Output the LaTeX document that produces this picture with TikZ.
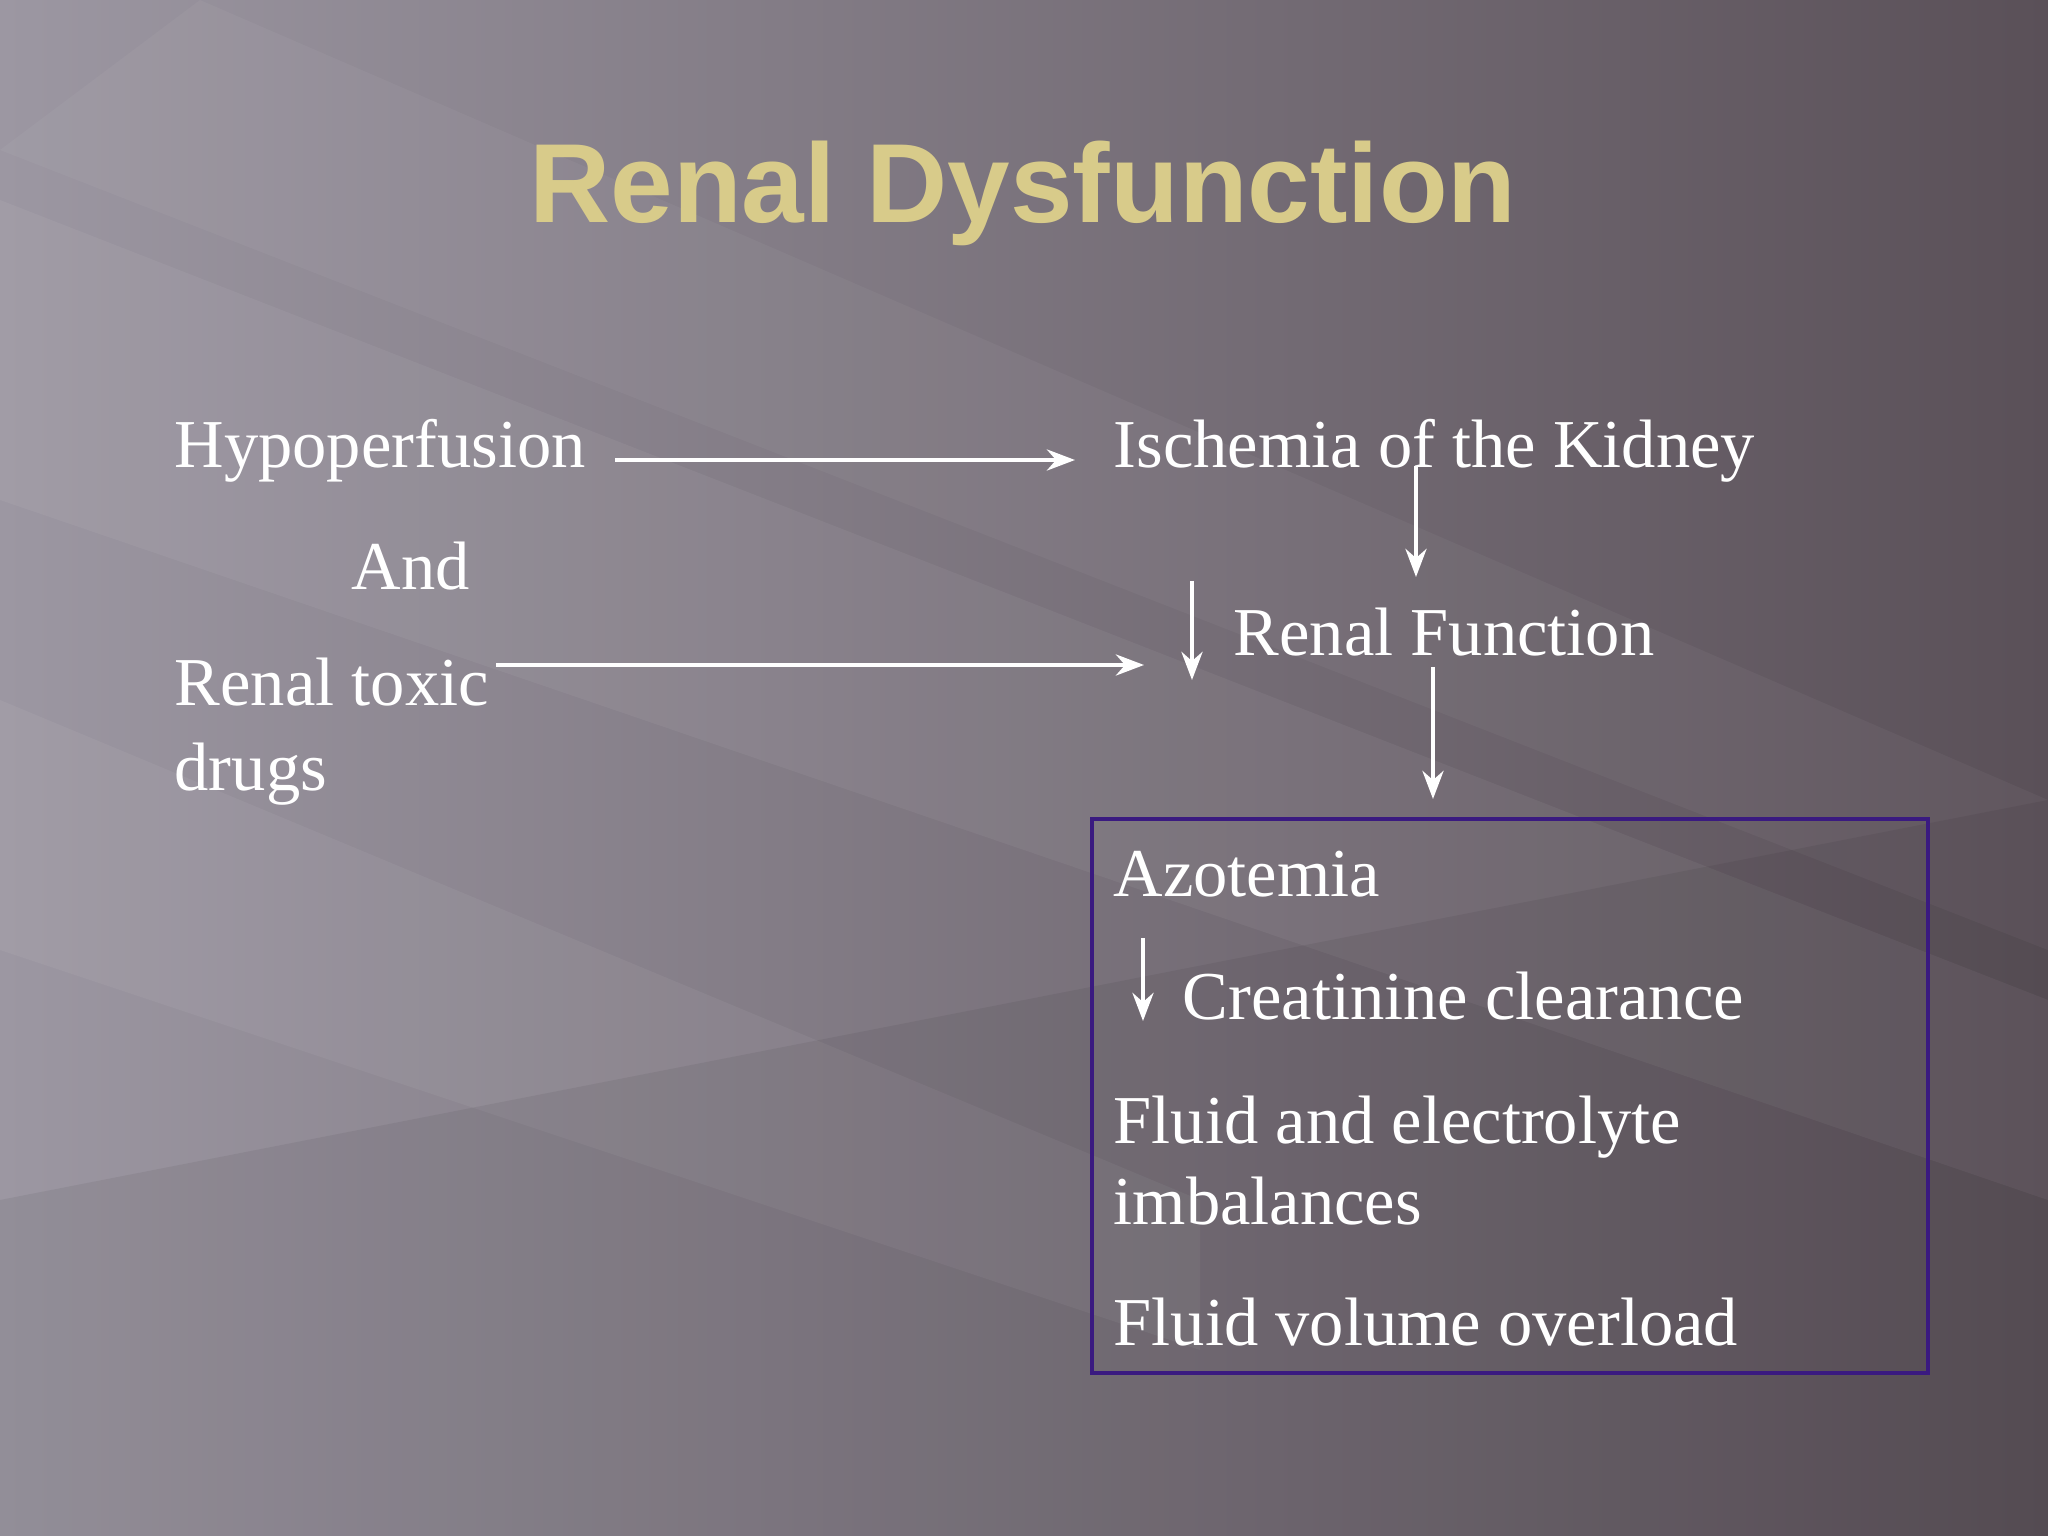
\documentclass[tikz,border=0pt]{standalone}
\usepackage{fontspec}
\setmainfont{Liberation Serif}
\newfontfamily\titlefont{Liberation Sans}
\usetikzlibrary{arrows.meta}
\definecolor{bgl}{HTML}{9C97A2}
\definecolor{bgr}{HTML}{5A5058}
\definecolor{gold}{HTML}{D8CB8A}
\definecolor{boxc}{HTML}{3A1A80}
\begin{document}
\begin{tikzpicture}[x=1cm,y=-1cm,
  txt/.style={anchor=base west,text=white,font=\fontsize{19.5}{23}\selectfont,inner sep=0pt},
  arr/.style={draw=white,line width=1.1pt,-{Stealth[length=8pt,width=6pt]}}]
\useasboundingbox (0,0) rectangle (20.48,15.36);
\shade[left color=bgl,right color=bgr] (0,0) rectangle (20.48,15.36);
\begin{scope}
\clip (0,0) rectangle (20.48,15.36);
\fill[white,opacity=0.05] (0,2) -- (20.48,10) -- (20.48,12) -- (0,5) -- cycle;
\fill[white,opacity=0.05] (0,7) -- (12,12) -- (12,13.5) -- (0,9.5) -- cycle;
\fill[white,opacity=0.04] (2,0) -- (20.48,8) -- (20.48,9.5) -- (0,1.5) -- cycle;
\fill[black,opacity=0.06] (0,12) -- (20.48,8) -- (20.48,15.36) -- (0,15.36) -- cycle;
\end{scope}
\node[text=gold,font=\titlefont\bfseries\fontsize{32}{38}\selectfont] (title) at (10.23,1.93) {Renal Dysfunction};
\node[txt] (hyp) at (1.74,4.68) {Hypoperfusion};
\node[txt] (isc) at (11.13,4.68) {Ischemia of the Kidney};
\node[txt] (and) at (3.51,5.90) {And};
\node[txt] (tox) at (1.74,7.06) {Renal toxic};
\node[txt] (drg) at (1.74,7.90) {drugs};
\node[txt] (rf) at (12.33,6.56) {Renal Function};
\node[txt] (azo) at (11.13,8.96) {Azotemia};
\node[txt] (cre) at (11.82,10.19) {Creatinine clearance};
\node[txt] (fe) at (11.13,11.43) {Fluid and electrolyte};
\node[txt] (imb) at (11.13,12.24) {imbalances};
\node[txt] (fvo) at (11.13,13.45) {Fluid volume overload};
\node[draw=boxc,line width=1.2pt,inner sep=0pt,minimum width=8.36cm,minimum height=5.54cm] (box) at (15.10,10.96) {};
\coordinate (a1s) at (6.15,4.60); \coordinate (a1e) at (10.75,4.60);
\coordinate (a2s) at (4.96,6.65); \coordinate (a2e) at (11.44,6.65);
\coordinate (d1s) at (11.92,5.81); \coordinate (d1e) at (11.92,6.80);
\coordinate (d2s) at (14.16,4.66); \coordinate (d2e) at (14.16,5.77);
\coordinate (d3s) at (14.33,6.67); \coordinate (d3e) at (14.33,7.99);
\coordinate (d4s) at (11.43,9.38); \coordinate (d4e) at (11.43,10.21);
\draw[arr] (a1s) -- (a1e);
\draw[arr] (a2s) -- (a2e);
\draw[arr] (d1s) -- (d1e);
\draw[arr] (d2s) -- (d2e);
\draw[arr] (d3s) -- (d3e);
\draw[arr] (d4s) -- (d4e);
\end{tikzpicture}
\end{document}
